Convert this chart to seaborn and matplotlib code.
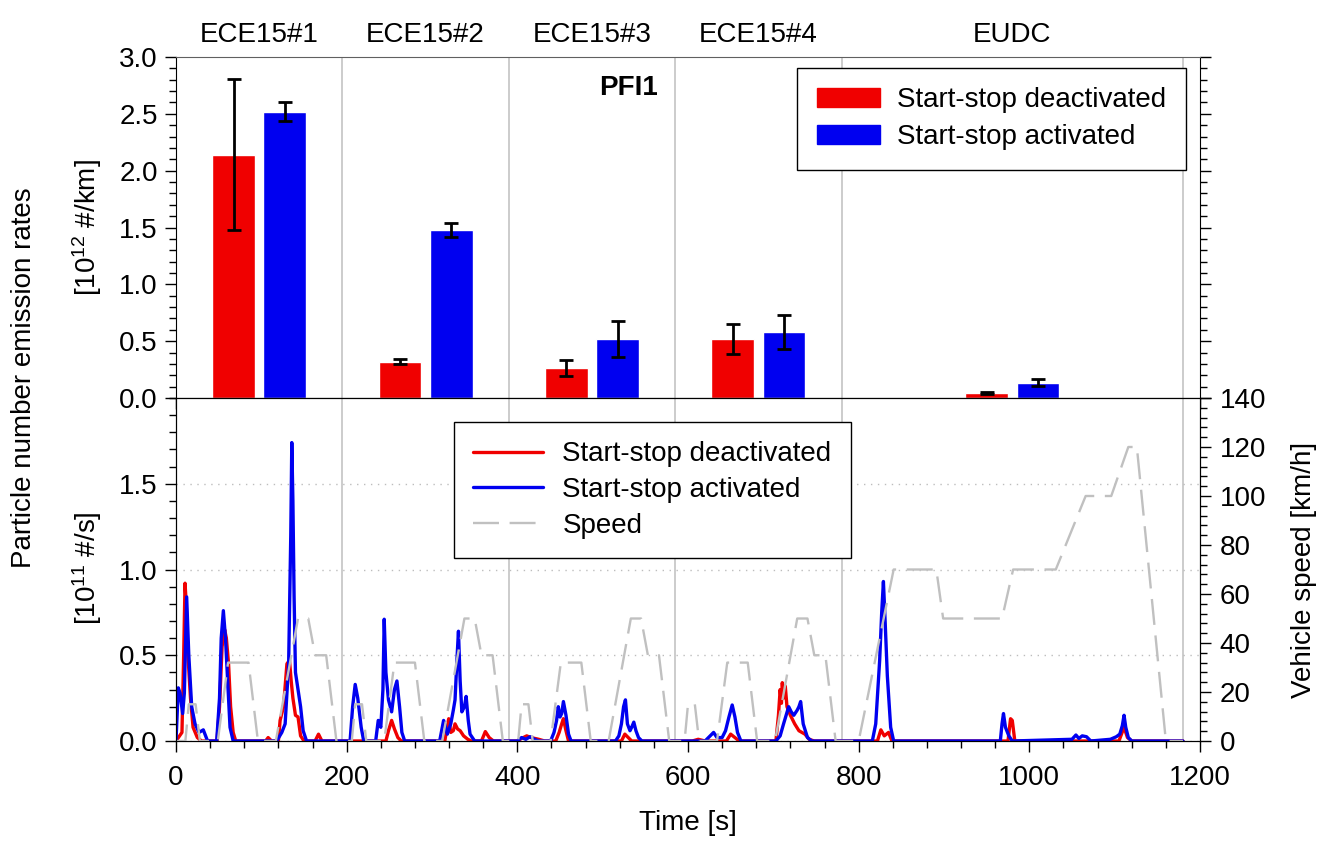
import numpy as np
import pandas as pd
import seaborn as sns
import matplotlib.pyplot as plt
from matplotlib.patches import Patch
from matplotlib.lines import Line2D
from matplotlib.ticker import MultipleLocator, FormatStrFormatter

# ---- data ----
segments = ["ECE15#1", "ECE15#2", "ECE15#3", "ECE15#4", "EUDC"]
seg_bounds = [0, 195, 390, 585, 780, 1180]
modes = ["Start-stop deactivated", "Start-stop activated"]

# PN emission rates per phase [10^12 #/km]
pn_off = [2.14, 0.32, 0.26, 0.52, 0.044]
pn_off_err = [0.665, 0.02, 0.07, 0.135, 0.008]
pn_on = [2.52, 1.48, 0.52, 0.58, 0.135]
pn_on_err = [0.085, 0.06, 0.16, 0.15, 0.03]

# NEDC speed profile breakpoints [s], [km/h]
ece_t = [0, 11, 15, 23, 28, 49, 61, 85, 96, 117, 143, 155, 163, 176, 188]
ece_v = [0, 0, 15, 15, 0, 0, 32, 32, 0, 0, 50, 50, 35, 35, 0]
eudc_t = [780, 800, 841, 891, 899, 968, 981, 1031, 1066, 1096, 1116, 1126, 1160, 1180]
eudc_v = [0, 0, 70, 70, 50, 50, 70, 70, 100, 100, 120, 120, 0, 0]

# PN emission time series [10^11 #/s]
red_t = [0, 7, 9, 10.6, 12, 14, 17, 20, 25, 30,
         48, 51, 54, 57, 59, 61.6, 64, 67, 70,
         105, 108, 112,
         120, 122, 126, 130, 133, 135, 137, 140, 143, 146, 150,
         163, 167, 171,
         246, 249, 252.7, 256, 260, 264,
         315, 317, 319.6, 322, 325, 327, 330, 333, 337, 342, 346,
         358, 362.5, 367, 372,
         400, 405, 411, 416, 425, 432,
         445, 449, 452, 454, 457, 460,
         522, 526, 530, 534,
         605, 612, 620,
         645, 650, 655, 660,
         703, 706, 708, 709.5, 710.5, 712, 714, 716, 720, 725, 730, 737, 742, 748,
         822, 826, 830, 835, 839,
         975, 978, 980, 983,
         1105, 1111, 1115, 1120, 1180]
red_v = [0, 0.05, 0.5, 0.92, 0.8, 0.5, 0.25, 0.08, 0.02, 0,
         0, 0.2, 0.55, 0.65, 0.6, 0.45, 0.2, 0.05, 0,
         0, 0.02, 0,
         0, 0.12, 0.2, 0.45, 0.47, 0.35, 0.25, 0.15, 0.14, 0.03, 0,
         0, 0.04, 0,
         0, 0.06, 0.12, 0.07, 0.02, 0,
         0, 0.06, 0.13, 0.05, 0.06, 0.1, 0.07, 0.06, 0.03, 0.01, 0,
         0, 0.055, 0.02, 0,
         0, 0.015, 0.03, 0.02, 0.01, 0,
         0, 0.05, 0.1, 0.13, 0.06, 0,
         0, 0.04, 0.02, 0,
         0, 0.01, 0,
         0, 0.04, 0.02, 0,
         0, 0.15, 0.3, 0.22, 0.34, 0.25, 0.32, 0.2, 0.15, 0.1, 0.06, 0.04, 0.01, 0,
         0, 0.065, 0.03, 0.05, 0,
         0, 0.13, 0.12, 0,
         0, 0.08, 0.02, 0, 0]

blue_t = [0, 2.7, 4.7, 7.8, 9.8, 12.5, 15, 18.4, 22.3, 27, 32, 37, 47.7, 51, 53, 55.5, 58, 61, 63.3, 67,
          118, 124, 127.9, 132, 134.5, 135.7, 137, 138.4, 140, 143, 146, 149, 153,
          204, 207, 210, 213, 217, 220,
          234, 237, 240, 242.5, 244, 246, 249, 252.7, 256, 258.9, 262, 264.7, 268,
          309, 313.6, 316, 318, 322, 325, 327, 329.5, 331, 333, 335, 338, 340, 342.5, 344.6, 350,
          400, 405, 410, 415, 420, 425, 439, 443, 446, 448, 450, 452, 454, 457, 460, 463,
          515, 519, 522, 524.5, 526.7, 529, 532, 534, 536.5, 539, 542, 546,
          620, 626, 630, 634, 640, 644, 648, 651.8, 655, 658, 662,
          703, 708, 712, 715, 718, 721, 724, 728, 730, 732, 735, 740, 745,
          816, 820, 824.6, 827, 829, 831, 833.6, 837.5, 841,
          966, 968, 969.7, 972, 976, 980,
          1050, 1054.6, 1058, 1062, 1067, 1072,
          1095, 1102, 1106, 1109, 1111, 1113, 1116, 1120, 1180]
blue_v = [0, 0.31, 0.28, 0.16, 0.28, 0.84, 0.5, 0.2, 0.1, 0.05, 0.065, 0, 0, 0.25, 0.6, 0.76, 0.6, 0.3, 0.08, 0,
          0, 0.05, 0.1, 0.45, 1.2, 1.74, 1.4, 0.84, 0.4, 0.3, 0.2, 0.06, 0,
          0, 0.2, 0.33, 0.25, 0.08, 0,
          0, 0.12, 0.08, 0.3, 0.71, 0.4, 0.24, 0.17, 0.3, 0.35, 0.2, 0.05, 0,
          0, 0.12, 0.08, 0.04, 0.1, 0.18, 0.24, 0.5, 0.64, 0.35, 0.17, 0.2, 0.26, 0.12, 0.04, 0,
          0, 0.02, 0.01, 0.025, 0.01, 0, 0, 0.05, 0.12, 0.2, 0.14, 0.16, 0.23, 0.15, 0.04, 0,
          0, 0.03, 0.1, 0.2, 0.24, 0.1, 0.06, 0.08, 0.11, 0.06, 0.02, 0,
          0, 0.03, 0.05, 0.02, 0.02, 0.06, 0.14, 0.21, 0.14, 0.05, 0,
          0, 0.03, 0.1, 0.15, 0.2, 0.17, 0.15, 0.18, 0.2, 0.23, 0.1, 0.02, 0,
          0, 0.1, 0.47, 0.75, 0.93, 0.7, 0.38, 0.08, 0,
          0, 0.1, 0.16, 0.08, 0.03, 0,
          0.01, 0.035, 0.015, 0.03, 0.025, 0,
          0.01, 0.025, 0.04, 0.09, 0.15, 0.08, 0.02, 0, 0]

# ---- frames ----
centers = [(a + b) / 2 for a, b in zip(seg_bounds[:-1], seg_bounds[1:])]
bars = pd.DataFrame({
    "time": centers * 2,
    "rate": pn_off + pn_on,
    "mode": [modes[0]] * len(pn_off) + [modes[1]] * len(pn_on),
})
ts = pd.DataFrame({
    "time": red_t + blue_t,
    "rate": red_v + blue_v,
    "mode": [modes[0]] * len(red_t) + [modes[1]] * len(blue_t),
})
speed_t, speed_v = [], []
for start in seg_bounds[:4]:
    speed_t += [start + t for t in ece_t]
    speed_v += ece_v
speed_t += eudc_t
speed_v += eudc_v

pal = {modes[0]: "#f00000", modes[1]: "#0000f0"}
speed_color = "#c0c0c0"
speed_ls = (0, (11, 4.5))

sns.set_style("ticks", {"axes.edgecolor": "black", "text.color": "black",
                        "axes.labelcolor": "black", "xtick.color": "black",
                        "ytick.color": "black"})
plt.rcParams["font.family"] = ["Liberation Sans", "DejaVu Sans"]
plt.rcParams["mathtext.fontset"] = "custom"
plt.rcParams["mathtext.rm"] = "Liberation Sans"
plt.rcParams["mathtext.default"] = "regular"
FS = 20

fig = plt.figure(figsize=(13.19, 8.46), dpi=100)
ax1 = fig.add_axes([0.13343, 0.52955, 0.77635, 0.40307])
ax2 = fig.add_axes([0.13343, 0.12411, 0.77635, 0.40544])

# ---- top: bars ----
sns.barplot(data=bars, x="time", y="rate", hue="mode", native_scale=True,
            palette=pal, width=120 / 195, gap=1 / 6, errorbar=None,
            saturation=1, legend=False, ax=ax1, zorder=2)
for cont, errs in zip(ax1.containers, [pn_off_err, pn_on_err]):
    xs = [p.get_x() + p.get_width() / 2 for p in cont]
    ys = [p.get_height() for p in cont]
    ax1.errorbar(xs, ys, yerr=errs, fmt="none", ecolor="black",
                 elinewidth=2, capsize=5, capthick=2, zorder=3)

for ax in (ax1, ax2):
    for b in seg_bounds[1:]:
        ax.axvline(b, color="#c4c4c4", lw=1.2, zorder=0.5)
    ax.set_xlim(0, 1200)
    ax.xaxis.set_major_locator(MultipleLocator(200))
    ax.xaxis.set_minor_locator(MultipleLocator(40))
    ax.set_xlabel("")
    ax.set_ylabel("")

ax1.set_ylim(0, 3.0)
ax1.yaxis.set_major_locator(MultipleLocator(0.5))
ax1.yaxis.set_minor_locator(MultipleLocator(0.1))
ax1.yaxis.set_major_formatter(FormatStrFormatter("%.1f"))
ax1.tick_params(axis="y", which="both", direction="out", right=True, labelright=False,
                labelsize=FS, pad=5)
ax1.tick_params(axis="x", which="both", direction="out", labelbottom=False)
ax1.tick_params(which="major", length=8, width=1)
ax1.tick_params(which="minor", length=5, width=1)
ax1.spines["top"].set_color("#606060")

for name, c in zip(segments, centers):
    ax1.text(c, 1.044, name, transform=ax1.get_xaxis_transform(),
             ha="center", va="baseline", fontsize=FS)
ax1.text(530, 2.665, "PFI1", ha="center", va="baseline", fontsize=FS, fontweight="bold")

leg1 = ax1.legend(handles=[Patch(color=pal[m], label=m) for m in modes],
                  loc="upper right", bbox_to_anchor=(0.986, 0.968), borderaxespad=0,
                  fontsize=FS, frameon=True, fancybox=False, edgecolor="black",
                  framealpha=1, handlelength=2.3, handleheight=0.7, handletextpad=0.6,
                  labelspacing=0.4, borderpad=0.7)
leg1.get_frame().set_linewidth(1)

# ---- bottom: time series ----
sns.lineplot(data=ts, x="time", y="rate", hue="mode", palette=pal,
             estimator=None, lw=2.4, legend=False, ax=ax2)
ax2.set_ylim(0, 2.0)
ax2.set_yticks([0, 0.5, 1.0, 1.5])
ax2.yaxis.set_minor_locator(MultipleLocator(0.1))
ax2.yaxis.set_major_formatter(FormatStrFormatter("%.1f"))
ax2.grid(axis="y", which="major", color="#bdbdbd", lw=1, ls=(0, (1, 4)))
ax2.tick_params(axis="both", which="both", direction="out", labelsize=FS)
ax2.tick_params(axis="y", pad=5)
ax2.tick_params(axis="x", pad=9)
ax2.tick_params(which="major", length=8, width=1)
ax2.tick_params(which="minor", length=5, width=1)
ax2.set_xlabel("")
ax2.set_ylabel("")

ax3 = ax2.twinx()
sns.lineplot(x=speed_t, y=speed_v, ax=ax3, color=speed_color, lw=1.7,
             linestyle=speed_ls)
ax3.set_ylim(0, 140)
ax3.set_xlim(0, 1200)
ax3.yaxis.set_major_locator(MultipleLocator(20))
ax3.yaxis.set_minor_locator(MultipleLocator(4))
ax3.tick_params(axis="y", which="both", direction="out", labelsize=FS, pad=6)
ax3.tick_params(which="major", length=8, width=1)
ax3.tick_params(which="minor", length=5, width=1)
ax3.set_ylabel("")

handles = [Line2D([], [], color=pal[modes[0]], lw=2.4, label=modes[0]),
           Line2D([], [], color=pal[modes[1]], lw=2.4, label=modes[1]),
           Line2D([], [], color=speed_color, lw=1.7, ls=speed_ls, label="Speed")]
leg2 = ax3.legend(handles=handles, loc="upper left", bbox_to_anchor=(0.2715, 0.930),
                  borderaxespad=0, fontsize=FS, frameon=True, fancybox=False,
                  edgecolor="black", framealpha=1, handlelength=2.5,
                  handletextpad=0.7, labelspacing=0.35, borderpad=0.7)
leg2.get_frame().set_linewidth(1)

# ---- axis titles ----
fig.text(0.018, 0.553, "Particle number emission rates", rotation=90,
         ha="center", va="center", fontsize=FS)
fig.text(0.066, 0.731, "[10$^{12}$ #/km]", rotation=90, ha="center", va="center", fontsize=FS)
fig.text(0.066, 0.329, "[10$^{11}$ #/s]", rotation=90, ha="center", va="center", fontsize=FS)
fig.text(0.989, 0.326, "Vehicle speed [km/h]", rotation=90, ha="center", va="center", fontsize=FS)
fig.text(0.5217, 0.027, "Time [s]", ha="center", va="center", fontsize=FS)

fig.savefig("out.png", dpi=100)
